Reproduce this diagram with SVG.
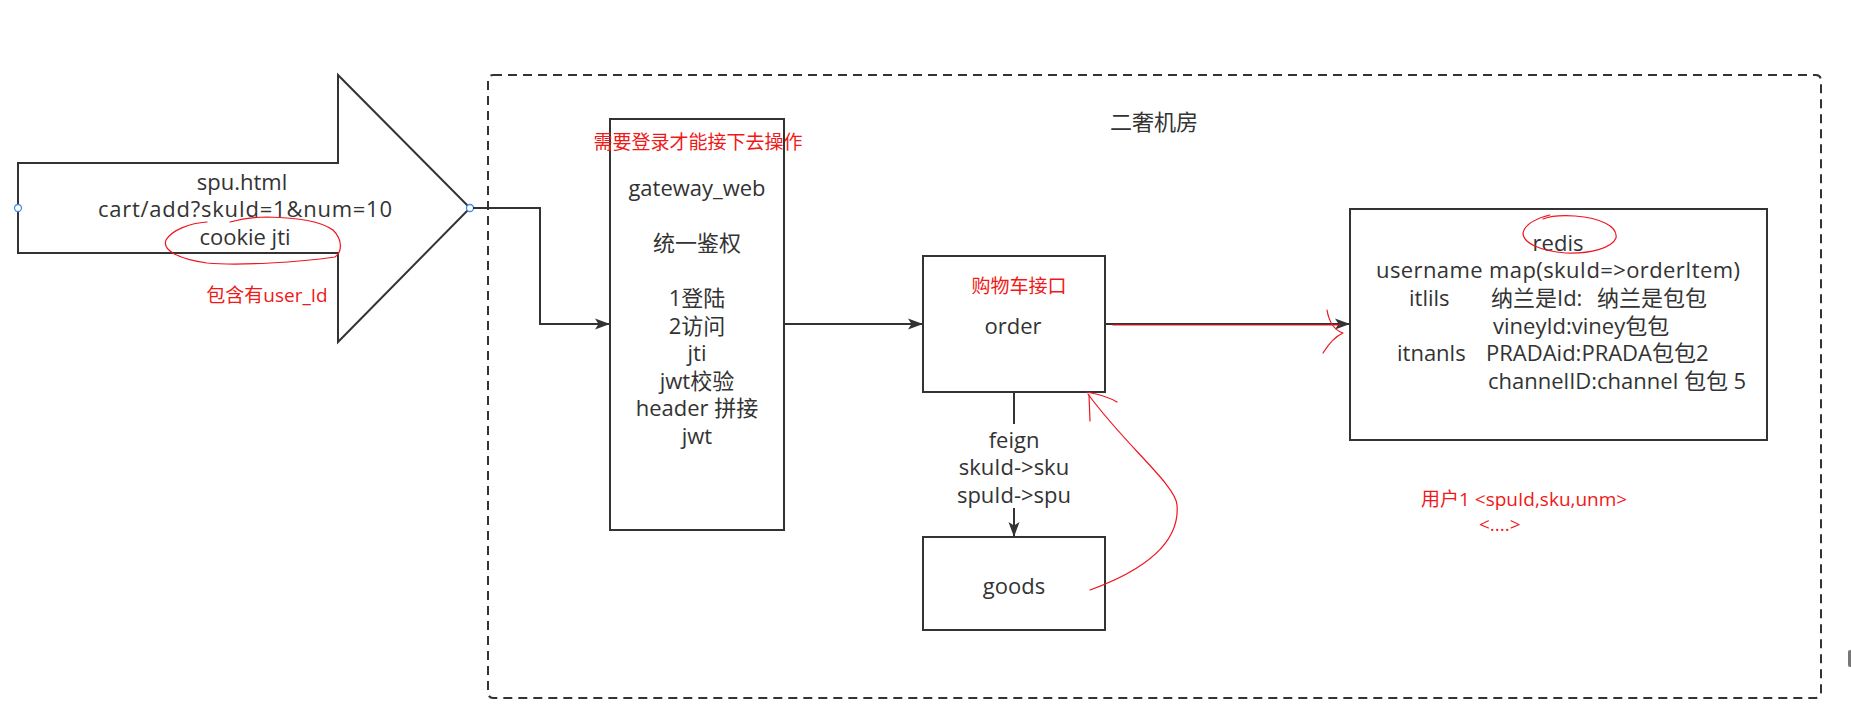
<svg xmlns="http://www.w3.org/2000/svg" width="1851" height="726" viewBox="0 0 1851 726">
<style>
.t{font-family:"Open Sans","Noto Sans CJK SC",sans-serif;font-size:22px;fill:#333}
.r{font-family:"Open Sans","Noto Sans CJK SC",sans-serif;font-size:19px;fill:#f01818}
.box{fill:#fff;stroke:#333;stroke-width:2}
.edge{fill:none;stroke:#333;stroke-width:2}
.ink{fill:none;stroke:#f0141e;stroke-width:1.2;stroke-linecap:round;stroke-linejoin:round}
.m{text-anchor:middle}
</style>
<defs>
<marker id="arr" markerUnits="userSpaceOnUse" markerWidth="16" markerHeight="12" refX="15" refY="6" orient="auto">
<path d="M0,0.5 L15,6 L0,11.5 L3.5,6 z" fill="#333"/>
</marker>
</defs>
<rect width="1851" height="726" fill="#fff"/>
<g id="machine-room">
<rect x="488" y="75" width="1333" height="623" rx="5" fill="none" stroke="#333" stroke-width="2" stroke-dasharray="9 6"/>
<text class="t m" x="1154" y="130">二奢机房</text>
</g>
<g id="request-arrow">
<polygon class="box" points="18,163 338,163 338,75 470,208 338,342 338,253 18,253"/>
<text class="t m" x="242" y="190">spu.html</text>
<text class="t m" x="245" y="217" textLength="294" lengthAdjust="spacing">cart/add?skuId=1&amp;num=10</text>
<text class="t m" x="245" y="245">cookie jti</text>
<text class="r m" x="267" y="302">包含有user_Id</text>
<circle cx="18" cy="208" r="3.5" fill="#fff" stroke="#3d8ef0" stroke-width="1.3"/>
<circle cx="470" cy="208" r="3.5" fill="#fff" stroke="#3d8ef0" stroke-width="1.3"/>
</g>
<g id="connectors">
<path class="edge" d="M473,208 H540 V324 H610" marker-end="url(#arr)"/>
<path class="edge" d="M784,324 H923" marker-end="url(#arr)"/>
<path class="edge" d="M1105,324 H1350" marker-end="url(#arr)"/>
<path class="edge" d="M1014,392 V537" marker-end="url(#arr)"/>
<rect x="950" y="424" width="128" height="84" fill="#fff"/>
<text class="t m" x="1014" y="448">feign</text>
<text class="t m" x="1014" y="475">skuId-&gt;sku</text>
<text class="t m" x="1014" y="503">spuId-&gt;spu</text>
</g>
<g id="gateway">
<rect class="box" x="610" y="119" width="174" height="411"/>
<text class="r m" x="698" y="149">需要登录才能接下去操作</text>
<text class="t m" x="697" y="196">gateway_web</text>
<text class="t m" x="697" y="251">统一鉴权</text>
<text class="t m" x="697" y="306">1登陆</text>
<text class="t m" x="697" y="334">2访问</text>
<text class="t m" x="697" y="361">jti</text>
<text class="t m" x="697" y="389">jwt校验</text>
<text class="t m" x="697" y="416">header 拼接</text>
<text class="t m" x="697" y="444">jwt</text>
</g>
<g id="order">
<rect class="box" x="923" y="256" width="182" height="136"/>
<text class="r m" x="1019" y="293">购物车接口</text>
<text class="t m" x="1013" y="334">order</text>
</g>
<g id="goods">
<rect class="box" x="923" y="537" width="182" height="93"/>
<text class="t m" x="1014" y="594">goods</text>
</g>
<g id="redis">
<rect class="box" x="1350" y="209" width="417" height="231"/>
<text class="t m" x="1558" y="251">redis</text>
<text class="t m" x="1558" y="278" textLength="364" lengthAdjust="spacing">username map(skuId=&gt;orderItem)</text>
<text class="t" x="1409" y="306">itlils</text>
<text class="t" x="1491" y="306">纳兰是Id:</text>
<text class="t" x="1597" y="306">纳兰是包包</text>
<text class="t" x="1493" y="334">vineyId:viney包包</text>
<text class="t" x="1397" y="361">itnanls</text>
<text class="t" x="1486" y="361">PRADAid:PRADA包包2</text>
<text class="t" x="1488" y="389">channelID:channel 包包 5</text>
</g>
<g id="annotations">
<path class="ink" d="M207,222 C190,223 172,230 166,240 C162,250 178,259 207,263 C240,266 300,262 335,257 C342,252 343,240 333,230 C320,221 300,218 267,217 C250,217 240,219 230,222"/>
<path class="ink" d="M1550,215 C1538,218 1525,224 1523,233 C1523,243 1540,251 1566,253 C1590,254 1612,248 1616,238 C1618,226 1600,218 1575,216 C1560,215 1548,217 1543,219"/>
<path class="ink" d="M1113,325 L1340,325"/>
<path class="ink" d="M1327,310 C1329,322 1334,330 1343,333 C1334,337 1328,345 1323,353"/>
<path class="ink" d="M1090,590 C1150,568 1180,540 1177,505 C1176,485 1125,445 1088,394"/>
<path class="ink" d="M1087,392 C1097,394 1107,396 1117,402"/>
<path class="ink" d="M1089,395 L1090,421"/>
<text class="r" x="1421" y="506">用户1 &lt;spuId,sku,unm&gt;</text>
<text class="r" x="1479" y="531">&lt;....&gt;</text>
</g>
<rect x="1848" y="650" width="4" height="17" rx="2" fill="#777"/>
</svg>
